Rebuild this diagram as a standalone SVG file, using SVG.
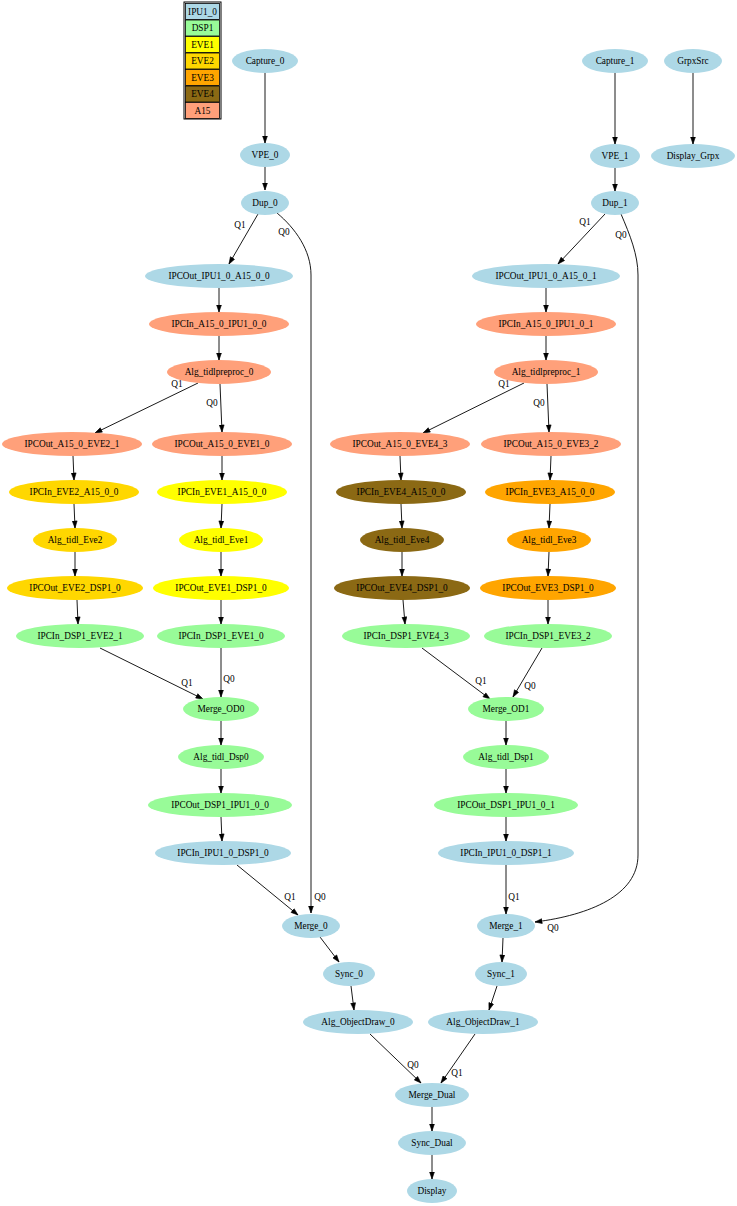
<svg xmlns="http://www.w3.org/2000/svg" width="737" height="1206" viewBox="0 0 737 1206">
<style>
text{font-family:"Liberation Serif","Times New Roman",serif;font-size:9.3px;fill:#000;text-anchor:middle}
.ipu{fill:#add8e6}.dsp{fill:#98fb98}.eve1{fill:#ffff00}.eve2{fill:#ffd700}.eve3{fill:#ffa500}.eve4{fill:#8b6914}.a15{fill:#ffa07a}
.e{fill:none;stroke:#000;stroke-width:0.9;marker-end:url(#ah)}
.lg{stroke:#000;stroke-width:0.8}
</style>
<defs>
<marker id="ah" markerUnits="userSpaceOnUse" markerWidth="8" markerHeight="6" viewBox="0 -3 7 6" refX="7" refY="0" orient="auto"><path d="M0,-2.4L7,0L0,2.4z" fill="#000" stroke="#000" stroke-width="0.6"/></marker>
</defs>
<rect width="737" height="1206" fill="#fff"/>
<g id="legend">
<rect x="184" y="2" width="37" height="117" fill="none" stroke="#000" stroke-width="1"/>
<rect class="ipu lg" x="185.5" y="3.5" width="34" height="16"/><text x="202.5" y="14.5">IPU1_0</text>
<rect class="dsp lg" x="185.5" y="20" width="34" height="16"/><text x="202.5" y="31">DSP1</text>
<rect class="eve1 lg" x="185.5" y="36.5" width="34" height="16"/><text x="202.5" y="47.5">EVE1</text>
<rect class="eve2 lg" x="185.5" y="53" width="34" height="16"/><text x="202.5" y="64">EVE2</text>
<rect class="eve3 lg" x="185.5" y="69.5" width="34" height="16"/><text x="202.5" y="80.5">EVE3</text>
<rect class="eve4 lg" x="185.5" y="86" width="34" height="16"/><text x="202.5" y="97">EVE4</text>
<rect class="a15 lg" x="185.5" y="102.5" width="34" height="16"/><text x="202.5" y="113.5">A15</text>
</g>
<g id="edges">
<path class="e" d="M265,73L265,143"/>
<path class="e" d="M265,167L265,190"/>
<path class="e" d="M258,214L229,264"/>
<path class="e" d="M277,213C295,228 311,250 311,275L311,913"/>
<path class="e" d="M219,288L219,312"/>
<path class="e" d="M219,336L219,360"/>
<path class="e" d="M198,383L95,433"/>
<path class="e" d="M220,384L222,432"/>
<path class="e" d="M73,456L74,480"/>
<path class="e" d="M222,456L222,480"/>
<path class="e" d="M74,504L75,528"/>
<path class="e" d="M222,504L221,528"/>
<path class="e" d="M75,552L75,576"/>
<path class="e" d="M221,552L221,576"/>
<path class="e" d="M77,600L78,624"/>
<path class="e" d="M221,600L221,624"/>
<path class="e" d="M100,648L203,699"/>
<path class="e" d="M221,648L221,697"/>
<path class="e" d="M221,721L221,745"/>
<path class="e" d="M221,769L221,793"/>
<path class="e" d="M221,817L222,841"/>
<path class="e" d="M237,865L298,915"/>
<path class="e" d="M320,937L339,962"/>
<path class="e" d="M351,986L354,1010"/>
<path class="e" d="M370,1034L421,1083"/>
<path class="e" d="M475,1034L441,1083"/>
<path class="e" d="M432,1106L432,1131"/>
<path class="e" d="M432,1155L432,1179"/>
<path class="e" d="M615,73L615,144"/>
<path class="e" d="M693,73L693,144"/>
<path class="e" d="M615,168L615,191"/>
<path class="e" d="M605,214L558,264"/>
<path class="e" d="M621,214C630,235 638,255 638,275L638,855C638,895 590,915 535,922"/>
<path class="e" d="M546,288L546,312"/>
<path class="e" d="M546,336L546,360"/>
<path class="e" d="M524,383L423,433"/>
<path class="e" d="M547,384L549,432"/>
<path class="e" d="M400,456L401,480"/>
<path class="e" d="M401,504L402,528"/>
<path class="e" d="M402,552L402,576"/>
<path class="e" d="M403,600L405,624"/>
<path class="e" d="M551,456L550,480"/>
<path class="e" d="M550,504L549,528"/>
<path class="e" d="M549,552L548,576"/>
<path class="e" d="M548,600L548,624"/>
<path class="e" d="M422,648L490,699"/>
<path class="e" d="M542,648L513,697"/>
<path class="e" d="M506,721L506,745"/>
<path class="e" d="M506,769L506,793"/>
<path class="e" d="M506,817L506,841"/>
<path class="e" d="M506,865L506,914"/>
<path class="e" d="M503,938L502,962"/>
<path class="e" d="M497,986L489,1010"/>
<text x="240" y="228">Q1</text>
<text x="284" y="235">Q0</text>
<text x="320" y="900">Q0</text>
<text x="290" y="900">Q1</text>
<text x="177" y="387">Q1</text>
<text x="212" y="406">Q0</text>
<text x="187" y="686">Q1</text>
<text x="229" y="682">Q0</text>
<text x="413" y="1068">Q0</text>
<text x="457" y="1076">Q1</text>
<text x="585" y="225">Q1</text>
<text x="621" y="238">Q0</text>
<text x="553" y="931">Q0</text>
<text x="504" y="387">Q1</text>
<text x="539" y="406">Q0</text>
<text x="481" y="684">Q1</text>
<text x="530" y="689">Q0</text>
<text x="514" y="900">Q1</text>
</g>
<g id="Capture_0"><ellipse class="ipu" cx="265" cy="61" rx="33" ry="12"/><text x="265" y="64">Capture_0</text></g>
<g id="VPE_0"><ellipse class="ipu" cx="265" cy="155" rx="25" ry="12"/><text x="265" y="158">VPE_0</text></g>
<g id="Dup_0"><ellipse class="ipu" cx="265" cy="203" rx="24" ry="12"/><text x="265" y="206">Dup_0</text></g>
<g id="IPCOut_IPU1_0_A15_0_0"><ellipse class="ipu" cx="219" cy="276" rx="74" ry="12"/><text x="219" y="279">IPCOut_IPU1_0_A15_0_0</text></g>
<g id="IPCIn_A15_0_IPU1_0_0"><ellipse class="a15" cx="219" cy="324" rx="70" ry="12"/><text x="219" y="327">IPCIn_A15_0_IPU1_0_0</text></g>
<g id="Alg_tidlpreproc_0"><ellipse class="a15" cx="219" cy="372" rx="52" ry="12"/><text x="219" y="375">Alg_tidlpreproc_0</text></g>
<g id="IPCOut_A15_0_EVE2_1"><ellipse class="a15" cx="72" cy="444" rx="70" ry="12"/><text x="72" y="447">IPCOut_A15_0_EVE2_1</text></g>
<g id="IPCOut_A15_0_EVE1_0"><ellipse class="a15" cx="222" cy="444" rx="70" ry="12"/><text x="222" y="447">IPCOut_A15_0_EVE1_0</text></g>
<g id="IPCIn_EVE2_A15_0_0"><ellipse class="eve2" cx="74" cy="492" rx="65" ry="12"/><text x="74" y="495">IPCIn_EVE2_A15_0_0</text></g>
<g id="IPCIn_EVE1_A15_0_0"><ellipse class="eve1" cx="222" cy="492" rx="65" ry="12"/><text x="222" y="495">IPCIn_EVE1_A15_0_0</text></g>
<g id="Alg_tidl_Eve2"><ellipse class="eve2" cx="75" cy="540" rx="42" ry="12"/><text x="75" y="543">Alg_tidl_Eve2</text></g>
<g id="Alg_tidl_Eve1"><ellipse class="eve1" cx="221" cy="540" rx="42" ry="12"/><text x="221" y="543">Alg_tidl_Eve1</text></g>
<g id="IPCOut_EVE2_DSP1_0"><ellipse class="eve2" cx="75" cy="588" rx="68" ry="12"/><text x="75" y="591">IPCOut_EVE2_DSP1_0</text></g>
<g id="IPCOut_EVE1_DSP1_0"><ellipse class="eve1" cx="221" cy="588" rx="68" ry="12"/><text x="221" y="591">IPCOut_EVE1_DSP1_0</text></g>
<g id="IPCIn_DSP1_EVE2_1"><ellipse class="dsp" cx="80" cy="636" rx="64" ry="12"/><text x="80" y="639">IPCIn_DSP1_EVE2_1</text></g>
<g id="IPCIn_DSP1_EVE1_0"><ellipse class="dsp" cx="221" cy="636" rx="64" ry="12"/><text x="221" y="639">IPCIn_DSP1_EVE1_0</text></g>
<g id="Merge_OD0"><ellipse class="dsp" cx="221" cy="709" rx="38" ry="12"/><text x="221" y="712">Merge_OD0</text></g>
<g id="Alg_tidl_Dsp0"><ellipse class="dsp" cx="221" cy="757" rx="43" ry="12"/><text x="221" y="760">Alg_tidl_Dsp0</text></g>
<g id="IPCOut_DSP1_IPU1_0_0"><ellipse class="dsp" cx="220" cy="805" rx="72" ry="12"/><text x="220" y="808">IPCOut_DSP1_IPU1_0_0</text></g>
<g id="IPCIn_IPU1_0_DSP1_0"><ellipse class="ipu" cx="223" cy="853" rx="68" ry="12"/><text x="223" y="856">IPCIn_IPU1_0_DSP1_0</text></g>
<g id="Merge_0"><ellipse class="ipu" cx="311" cy="926" rx="29" ry="12"/><text x="311" y="929">Merge_0</text></g>
<g id="Sync_0"><ellipse class="ipu" cx="349" cy="974" rx="26" ry="12"/><text x="349" y="977">Sync_0</text></g>
<g id="Alg_ObjectDraw_0"><ellipse class="ipu" cx="358" cy="1022" rx="55" ry="12"/><text x="358" y="1025">Alg_ObjectDraw_0</text></g>
<g id="Capture_1"><ellipse class="ipu" cx="615" cy="61" rx="33" ry="12"/><text x="615" y="64">Capture_1</text></g>
<g id="GrpxSrc"><ellipse class="ipu" cx="693" cy="61" rx="29" ry="12"/><text x="693" y="64">GrpxSrc</text></g>
<g id="VPE_1"><ellipse class="ipu" cx="615" cy="156" rx="25" ry="12"/><text x="615" y="159">VPE_1</text></g>
<g id="Display_Grpx"><ellipse class="ipu" cx="693" cy="156" rx="42" ry="12"/><text x="693" y="159">Display_Grpx</text></g>
<g id="Dup_1"><ellipse class="ipu" cx="615" cy="203" rx="24" ry="12"/><text x="615" y="206">Dup_1</text></g>
<g id="IPCOut_IPU1_0_A15_0_1"><ellipse class="ipu" cx="546" cy="276" rx="74" ry="12"/><text x="546" y="279">IPCOut_IPU1_0_A15_0_1</text></g>
<g id="IPCIn_A15_0_IPU1_0_1"><ellipse class="a15" cx="546" cy="324" rx="70" ry="12"/><text x="546" y="327">IPCIn_A15_0_IPU1_0_1</text></g>
<g id="Alg_tidlpreproc_1"><ellipse class="a15" cx="546" cy="372" rx="52" ry="12"/><text x="546" y="375">Alg_tidlpreproc_1</text></g>
<g id="IPCOut_A15_0_EVE4_3"><ellipse class="a15" cx="400" cy="444" rx="70" ry="12"/><text x="400" y="447">IPCOut_A15_0_EVE4_3</text></g>
<g id="IPCOut_A15_0_EVE3_2"><ellipse class="a15" cx="551" cy="444" rx="70" ry="12"/><text x="551" y="447">IPCOut_A15_0_EVE3_2</text></g>
<g id="IPCIn_EVE4_A15_0_0"><ellipse class="eve4" cx="401" cy="492" rx="65" ry="12"/><text x="401" y="495">IPCIn_EVE4_A15_0_0</text></g>
<g id="IPCIn_EVE3_A15_0_0"><ellipse class="eve3" cx="550" cy="492" rx="65" ry="12"/><text x="550" y="495">IPCIn_EVE3_A15_0_0</text></g>
<g id="Alg_tidl_Eve4"><ellipse class="eve4" cx="402" cy="540" rx="42" ry="12"/><text x="402" y="543">Alg_tidl_Eve4</text></g>
<g id="Alg_tidl_Eve3"><ellipse class="eve3" cx="549" cy="540" rx="42" ry="12"/><text x="549" y="543">Alg_tidl_Eve3</text></g>
<g id="IPCOut_EVE4_DSP1_0"><ellipse class="eve4" cx="402" cy="588" rx="68" ry="12"/><text x="402" y="591">IPCOut_EVE4_DSP1_0</text></g>
<g id="IPCOut_EVE3_DSP1_0"><ellipse class="eve3" cx="548" cy="588" rx="68" ry="12"/><text x="548" y="591">IPCOut_EVE3_DSP1_0</text></g>
<g id="IPCIn_DSP1_EVE4_3"><ellipse class="dsp" cx="406" cy="636" rx="64" ry="12"/><text x="406" y="639">IPCIn_DSP1_EVE4_3</text></g>
<g id="IPCIn_DSP1_EVE3_2"><ellipse class="dsp" cx="548" cy="636" rx="64" ry="12"/><text x="548" y="639">IPCIn_DSP1_EVE3_2</text></g>
<g id="Merge_OD1"><ellipse class="dsp" cx="506" cy="709" rx="38" ry="12"/><text x="506" y="712">Merge_OD1</text></g>
<g id="Alg_tidl_Dsp1"><ellipse class="dsp" cx="506" cy="757" rx="43" ry="12"/><text x="506" y="760">Alg_tidl_Dsp1</text></g>
<g id="IPCOut_DSP1_IPU1_0_1"><ellipse class="dsp" cx="506" cy="805" rx="72" ry="12"/><text x="506" y="808">IPCOut_DSP1_IPU1_0_1</text></g>
<g id="IPCIn_IPU1_0_DSP1_1"><ellipse class="ipu" cx="506" cy="853" rx="68" ry="12"/><text x="506" y="856">IPCIn_IPU1_0_DSP1_1</text></g>
<g id="Merge_1"><ellipse class="ipu" cx="506" cy="926" rx="29" ry="12"/><text x="506" y="929">Merge_1</text></g>
<g id="Sync_1"><ellipse class="ipu" cx="501" cy="974" rx="26" ry="12"/><text x="501" y="977">Sync_1</text></g>
<g id="Alg_ObjectDraw_1"><ellipse class="ipu" cx="483" cy="1022" rx="55" ry="12"/><text x="483" y="1025">Alg_ObjectDraw_1</text></g>
<g id="Merge_Dual"><ellipse class="ipu" cx="432" cy="1095" rx="37" ry="12"/><text x="432" y="1098">Merge_Dual</text></g>
<g id="Sync_Dual"><ellipse class="ipu" cx="432" cy="1143" rx="34" ry="12"/><text x="432" y="1146">Sync_Dual</text></g>
<g id="Display"><ellipse class="ipu" cx="432" cy="1191" rx="25" ry="12"/><text x="432" y="1194">Display</text></g>
</svg>
